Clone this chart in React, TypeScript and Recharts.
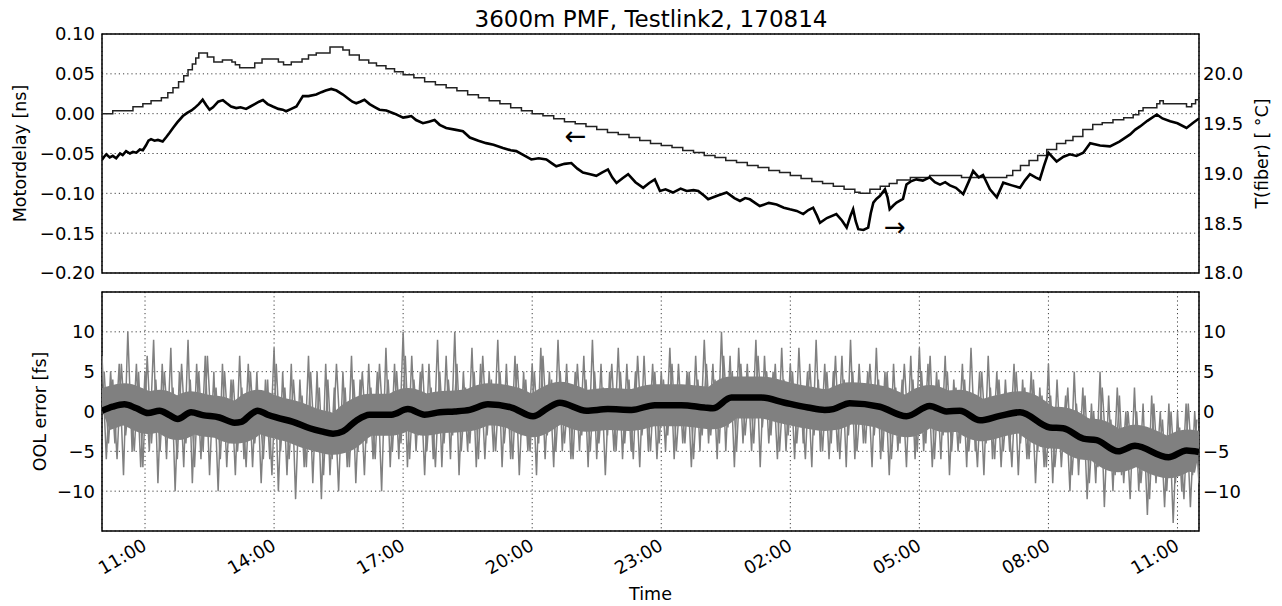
import React from 'react'
import {
  CartesianGrid,
  Line,
  LineChart,
  ReferenceArea,
  ReferenceDot,
  XAxis,
  YAxis,
} from 'recharts'

// time is in hours counted from midnight of 14.08. (so 26 = 02:00 next day)
const timeDomain: [number, number] = [10, 35.5]
const timeTicks = [11, 14, 17, 20, 23, 26, 29, 32, 35]
const delayTicks = [-0.2, -0.15, -0.1, -0.05, 0, 0.05, 0.1]
const tempTicks = [18, 18.5, 19, 19.5, 20]
const oolTicks = [-10, -5, 0, 5, 10]

// [time, motordelay ns]
const motorDelay: [number, number][] = [
  [10.0, -0.058], [10.05, -0.054], [10.1, -0.051], [10.18, -0.055], [10.25, -0.053],
  [10.33, -0.056], [10.42, -0.05], [10.48, -0.052], [10.56, -0.047], [10.65, -0.05],
  [10.72, -0.048], [10.8, -0.049], [10.88, -0.045], [10.95, -0.046], [11.02, -0.04],
  [11.08, -0.034], [11.14, -0.032], [11.22, -0.034], [11.3, -0.033], [11.41, -0.035],
  [11.5, -0.029], [11.57, -0.024], [11.65, -0.018], [11.75, -0.011], [11.88, -0.003],
  [11.98, 0.001], [12.08, 0.004], [12.15, 0.007], [12.25, 0.012], [12.34, 0.0175],
  [12.42, 0.011], [12.5, 0.005], [12.58, 0.008], [12.7, 0.015], [12.81, 0.017],
  [12.9, 0.013], [13.0, 0.009], [13.12, 0.007], [13.22, 0.008], [13.35, 0.006],
  [13.45, 0.009], [13.55, 0.012], [13.65, 0.015], [13.74, 0.017], [13.85, 0.012],
  [13.97, 0.009], [14.1, 0.006], [14.2, 0.005], [14.28, 0.003], [14.4, 0.006],
  [14.52, 0.009], [14.6, 0.016], [14.67, 0.022], [14.8, 0.022], [14.98, 0.024],
  [15.1, 0.027], [15.2, 0.029], [15.33, 0.031], [15.45, 0.029], [15.6, 0.024],
  [15.72, 0.019], [15.82, 0.015], [15.91, 0.013], [16.0, 0.015], [16.1, 0.0175],
  [16.22, 0.012], [16.35, 0.008], [16.45, 0.005], [16.61, 0.004], [16.8, 0.0],
  [17.0, -0.005], [17.1, -0.004], [17.19, -0.003], [17.3, -0.008], [17.46, -0.012],
  [17.6, -0.01], [17.73, -0.008], [17.85, -0.014], [18.0, -0.018], [18.2, -0.02],
  [18.39, -0.022], [18.55, -0.03], [18.75, -0.034], [18.93, -0.037], [19.1, -0.039],
  [19.32, -0.043], [19.5, -0.046], [19.63, -0.047], [19.8, -0.052], [19.98, -0.0575],
  [20.15, -0.056], [20.33, -0.0575], [20.45, -0.062], [20.56, -0.066], [20.75, -0.063],
  [20.91, -0.062], [21.05, -0.069], [21.18, -0.074], [21.35, -0.076], [21.49, -0.078],
  [21.62, -0.074], [21.76, -0.07], [21.86, -0.08], [21.96, -0.087], [22.1, -0.081],
  [22.23, -0.076], [22.4, -0.086], [22.58, -0.093], [22.72, -0.087], [22.85, -0.0825],
  [22.97, -0.097], [23.1, -0.095], [23.27, -0.099], [23.45, -0.094], [23.59, -0.097],
  [23.75, -0.096], [23.86, -0.097], [24.0, -0.103], [24.09, -0.1075], [24.3, -0.103],
  [24.52, -0.099], [24.7, -0.106], [24.83, -0.1096], [24.95, -0.106], [25.06, -0.1075],
  [25.18, -0.112], [25.29, -0.116], [25.5, -0.112], [25.68, -0.114], [25.85, -0.118],
  [25.99, -0.12], [26.15, -0.122], [26.3, -0.126], [26.42, -0.121], [26.53, -0.118],
  [26.62, -0.128], [26.69, -0.137], [26.85, -0.131], [27.07, -0.126], [27.2, -0.134],
  [27.31, -0.143], [27.4, -0.128], [27.46, -0.12], [27.52, -0.135], [27.58, -0.145],
  [27.7, -0.146], [27.81, -0.143], [27.87, -0.125], [27.93, -0.1116], [28.0, -0.107],
  [28.08, -0.1034], [28.2, -0.095], [28.26, -0.105], [28.31, -0.12], [28.4, -0.115],
  [28.47, -0.1116], [28.62, -0.107], [28.7, -0.089], [28.8, -0.085], [28.93, -0.0825],
  [29.08, -0.084], [29.24, -0.08], [29.36, -0.086], [29.48, -0.089], [29.6, -0.086],
  [29.71, -0.09], [29.85, -0.093], [30.02, -0.101], [30.15, -0.085], [30.25, -0.072],
  [30.38, -0.08], [30.48, -0.077], [30.64, -0.095], [30.8, -0.105], [30.95, -0.0866],
  [31.15, -0.09], [31.34, -0.093], [31.45, -0.084], [31.57, -0.076], [31.7, -0.08],
  [31.8, -0.0825], [31.9, -0.065], [32.0, -0.049], [32.1, -0.055], [32.19, -0.06],
  [32.35, -0.054], [32.5, -0.051], [32.65, -0.053], [32.81, -0.049], [32.97, -0.037],
  [33.2, -0.04], [33.43, -0.041], [33.65, -0.035], [33.9, -0.026], [34.02, -0.02],
  [34.13, -0.016], [34.3, -0.009], [34.52, -0.001], [34.65, -0.006], [34.83, -0.0096],
  [35.0, -0.012], [35.21, -0.018], [35.35, -0.012], [35.5, -0.006],
]

// [time, fiber temperature degC], drawn as steps
const fiberTemp: [number, number][] = [
  [10.0, 19.6], [10.25, 19.63], [10.72, 19.67], [10.95, 19.7], [11.14, 19.73],
  [11.38, 19.76], [11.53, 19.81], [11.65, 19.86], [11.78, 19.92], [11.9, 19.98],
  [12.0, 20.04], [12.1, 20.1], [12.18, 20.16], [12.25, 20.21], [12.45, 20.17],
  [12.6, 20.12], [12.8, 20.14], [13.02, 20.12], [13.1, 20.09], [13.2, 20.06],
  [13.55, 20.11], [13.72, 20.15], [14.1, 20.12], [14.22, 20.09], [14.4, 20.12],
  [14.65, 20.15], [14.8, 20.19], [14.98, 20.21], [15.3, 20.27], [15.6, 20.24],
  [15.75, 20.19], [15.98, 20.14], [16.2, 20.11], [16.38, 20.08], [16.6, 20.05],
  [16.8, 20.02], [17.0, 19.99], [17.25, 19.96], [17.5, 19.92], [17.75, 19.89],
  [18.0, 19.86], [18.25, 19.83], [18.5, 19.79], [18.75, 19.76], [19.0, 19.73],
  [19.25, 19.7], [19.5, 19.66], [19.75, 19.63], [20.0, 19.6], [20.25, 19.58],
  [20.5, 19.55], [20.75, 19.52], [21.0, 19.5], [21.25, 19.47], [21.5, 19.44],
  [21.75, 19.41], [22.0, 19.39], [22.25, 19.36], [22.5, 19.33], [22.75, 19.3],
  [23.0, 19.28], [23.25, 19.26], [23.5, 19.23], [23.75, 19.21], [24.0, 19.18],
  [24.25, 19.16], [24.5, 19.13], [24.75, 19.11], [25.0, 19.08], [25.25, 19.06],
  [25.5, 19.03], [25.75, 19.01], [26.0, 18.98], [26.25, 18.95], [26.5, 18.92],
  [26.75, 18.9], [27.0, 18.87], [27.25, 18.84], [27.5, 18.81], [27.62, 18.8],
  [27.85, 18.84], [28.09, 18.87], [28.3, 18.9], [28.48, 18.935], [28.79, 18.96],
  [29.24, 18.98], [29.98, 18.96], [31.03, 18.98], [31.17, 19.03], [31.35, 19.08],
  [31.55, 19.13], [31.75, 19.18], [31.96, 19.24], [32.19, 19.3], [32.4, 19.33],
  [32.57, 19.37], [32.8, 19.44], [33.03, 19.49], [33.25, 19.51], [33.5, 19.54],
  [33.75, 19.56], [33.97, 19.59], [34.1, 19.63], [34.2, 19.66], [34.52, 19.7],
  [34.59, 19.73], [34.67, 19.7], [35.13, 19.7], [35.21, 19.67], [35.33, 19.7],
  [35.42, 19.74], [35.5, 19.79],
]

// [time, smoothed OOL error fs]
const oolMean: [number, number][] = [
  [10.0, 0.1], [10.25, 0.6], [10.52, 0.9], [10.8, 0.4], [11.07, -0.2], [11.34, 0.1],
  [11.55, -0.4], [11.76, -0.95], [12.07, -0.1], [12.34, -0.45], [12.73, -0.75],
  [13.08, -1.4], [13.24, -1.3], [13.45, -0.4], [13.62, 0.1], [13.85, -0.4], [14.05, -0.75],
  [14.44, -1.3], [14.83, -2.1], [15.1, -2.5], [15.37, -2.8], [15.6, -2.5], [15.91, -1.15],
  [16.22, -0.4], [16.73, -0.4], [17.11, 0.3], [17.5, -0.4], [17.85, -0.1], [18.2, 0.0],
  [18.55, 0.2], [18.97, 0.9], [19.52, 0.5], [20.02, -0.6], [20.35, 0.4], [20.64, 1.1],
  [21.26, 0.1], [21.76, 0.3], [22.31, 0.2], [22.85, 0.8], [23.47, 0.8], [24.0, 0.5],
  [24.2, 0.4], [24.63, 1.75], [25.33, 1.75], [25.87, 1.1], [26.41, 0.5], [26.8, 0.2],
  [27.0, 0.3], [27.38, 1.05], [28.08, 0.6], [28.7, -0.6], [29.24, 0.7], [29.63, 0.0],
  [29.94, 0.1], [30.41, -1.1], [30.87, -0.55], [31.34, -0.1], [32.03, -2.0], [32.34, -2.1],
  [32.81, -3.4], [33.12, -3.6], [33.62, -5.0], [34.01, -4.3], [34.79, -5.75], [35.21, -4.9],
  [35.5, -5.1],
]

// raw OOL error extremes every 0.1 h: peaks at 10.0, 10.2, ... and dips at 10.1, 10.3, ...
const oolStart = 10
const oolStep = 0.1
const oolPeaks = [
  7, 5, 6, 10, 6, 5, 9, 6, 8, 5, 9, 6, 7, 5, 6, 4, 7, 6, 5, 4,
  8, 5, 6, 4, 7, 5, 6, 3, 5, 7, 4, 6, 5, 8, 6, 10, 7, 5, 6, 9,
  7, 10, 5, 8, 6, 5, 9, 6, 7, 5, 6, 8, 5, 9, 6, 5, 7, 9, 6, 5,
  8, 6, 5, 7, 6, 5, 8, 6, 5, 7, 9, 6, 10, 7, 8, 6, 9, 7, 5, 8,
  6, 8, 5, 9, 6, 5, 7, 9, 6, 5, 8, 5, 6, 4, 7, 8, 6, 5, 7, 4,
  6, 8, 5, 7, 5, 4, 6, 4, 5, 3, 6, 4, 2, 5, 3, 1, 5, 2, 3, 0,
  3, 1, 2, 0, 1, 0, 1, 0,
]
const oolDips = [
  -6, -4, -8, -5, -7, -5, -9, -6, -10, -7, -9, -6, -8, -10, -7, -8, -6, -7, -9, -6,
  -10, -8, -11, -7, -9, -11, -8, -10, -7, -9, -8, -6, -10, -7, -6, -7, -5, -8, -6, -7,
  -6, -8, -5, -7, -6, -5, -7, -6, -8, -5, -8, -6, -7, -5, -6, -5, -7, -6, -8, -5,
  -6, -5, -7, -5, -6, -5, -6, -4, -7, -5, -4, -6, -5, -7, -4, -5, -7, -4, -6, -5,
  -6, -4, -7, -5, -6, -5, -7, -6, -4, -7, -6, -8, -5, -7, -6, -5, -7, -6, -8, -5,
  -7, -5, -8, -6, -7, -5, -8, -6, -9, -7, -9, -7, -10, -8, -11, -9, -12, -10, -8, -11,
  -10, -13, -9, -12, -14, -10, -12, -9,
]
// second, smaller layer in between: peaks at 10.05, 10.25, ... and dips at 10.15, 10.35, ...
const oolPeaks2 = [
  5, 4, 6, 3, 5, 7, 4, 5, 3, 6, 4, 5, 7, 3, 5,
  4, 3, 5, 2, 4, 6, 3, 4, 2, 5, 3, 4, 6, 3, 4,
  5, 3, 6, 4, 5, 7, 4, 6, 3, 5, 4, 6, 3, 5, 7, 4, 5, 3, 6, 4,
  5, 7, 4, 5, 3, 6, 4, 5, 3, 6, 5, 4, 7, 3, 5, 4, 6, 3, 5, 4,
  6, 4, 7, 5, 6, 4, 7, 5, 6, 4,
  5, 3, 6, 4, 5, 7, 4, 5, 3, 6, 4, 5, 3, 6, 4, 5, 7, 4, 5, 3,
  4, 2, 5, 3, 4, 2, 5, 3, 4, 2,
  2, 0, 3, 1, 2, 0, 3, -1, 2, 0,
  0, -2, 1, -1, 0, -2, 1, -1,
]
const oolDips2 = [
  -4, -6, -3, -5, -7, -4, -5, -3, -6, -4, -7, -5, -3, -6, -4,
  -5, -7, -4, -6, -8, -5, -6, -4, -7, -5, -8, -6, -4, -7, -5,
  -4, -6, -3, -5, -4, -6, -3, -5, -7, -4, -3, -5, -4, -6, -3, -5, -4, -6, -3, -5,
  -4, -3, -5, -4, -6, -3, -5, -4, -3, -5, -4, -6, -3, -5, -4, -3, -5, -4, -6, -3,
  -3, -4, -2, -5, -3, -4, -2, -3, -5, -3,
  -4, -6, -3, -5, -4, -6, -3, -5, -4, -3, -5, -6, -4, -3, -5, -4, -6, -3, -5, -4,
  -5, -7, -4, -6, -5, -7, -4, -6, -5, -7,
  -7, -5, -8, -6, -9, -7, -6, -8, -9, -7,
  -9, -11, -8, -10, -9, -11, -8,
]

// arrows telling which axis each curve belongs to: [time, motordelay, glyph]
const axisArrows: [number, number, string][] = [
  [21.01, -0.0275, '\u2190'],
  [28.43, -0.1425, '\u2192'],
]

const toPoints = (rows: [number, number][]) => rows.map(([t, v]) => ({ t, v }))

function zigzag(peaks: number[], dips: number[], start: number) {
  const out: { t: number; v: number }[] = []
  peaks.forEach((p, i) => {
    out.push({ t: start + 2 * i * oolStep, v: p })
    if (dips[i] !== undefined) out.push({ t: start + (2 * i + 1) * oolStep, v: dips[i] })
  })
  return out
}

const oolRaw = zigzag(oolPeaks, oolDips, oolStart)
const oolRaw2 = zigzag(oolPeaks2, oolDips2, oolStart + oolStep / 2)

const FONT = 'DejaVu Sans, Bitstream Vera Sans, sans-serif'
const tickStyle = { fontSize: 18, fill: '#000', fontFamily: FONT }
const labelStyle = { textAnchor: 'middle', fontSize: 17.5, fill: '#000', fontFamily: FONT }
const gridProps = { stroke: '#000', strokeDasharray: '1.2 3', strokeOpacity: 0.75 }

const minus = (s: string) => s.replace('-', '\u2212')

function TimeTick(props: any) {
  const { x, y, payload } = props
  const h = Math.round(payload.value) % 24
  const label = `${String(h).padStart(2, '0')}:00`
  return (
    <g transform={`translate(${x + 3},${y + 10}) rotate(-30)`}>
      <text textAnchor="end" fontSize={18} fontFamily={FONT} fill="#000">
        {label}
      </text>
    </g>
  )
}

export default function App(): React.ReactElement {
  return (
    <div
      style={{
        position: 'absolute',
        left: 0,
        top: 0,
        width: 1282,
        height: 606,
        background: '#fff',
        fontFamily: FONT,
      }}
    >
      <svg width={1282} height={34} style={{ position: 'absolute', left: 0, top: 0 }}>
        <text x={651} y={26.5} textAnchor="middle" fontSize={23} fontFamily={FONT} fill="#000">
          3600m PMF, Testlink2, 170814
        </text>
      </svg>

      <div style={{ position: 'absolute', left: 0, top: 0 }}>
        <LineChart width={1282} height={290} margin={{ top: 34, right: 0, bottom: 17, left: 0 }}>
          <CartesianGrid yAxisId="delay" {...gridProps} />
          <XAxis
            dataKey="t"
            type="number"
            domain={timeDomain}
            ticks={timeTicks}
            interval={0}
            allowDataOverflow
            height={0}
            tick={false}
            tickLine={false}
            axisLine={false}
          />
          <YAxis
            yAxisId="delay"
            domain={[-0.2, 0.1]}
            ticks={delayTicks}
            interval={0}
            allowDataOverflow
            width={102}
            tickSize={4}
            tickMargin={3}
            tickLine={false}
            axisLine={false}
            tick={tickStyle}
            tickFormatter={(v: number) => minus(v.toFixed(2))}
            label={{
              value: 'Motordelay [ns]',
              angle: -90,
              position: 'insideLeft',
              offset: 20,
              style: labelStyle,
            }}
          />
          <YAxis
            yAxisId="temp"
            orientation="right"
            domain={[18, 20.4]}
            ticks={tempTicks}
            interval={0}
            allowDataOverflow
            width={83}
            tickSize={4}
            tickMargin={0}
            tickLine={false}
            axisLine={false}
            tick={tickStyle}
            tickFormatter={(v: number) => v.toFixed(1)}
            label={{
              value: 'T(fiber) [ \u00b0C]',
              angle: -90,
              position: 'insideRight',
              offset: 20,
              style: labelStyle,
            }}
          />
          <Line
            yAxisId="temp"
            data={toPoints(fiberTemp)}
            dataKey="v"
            type="stepAfter"
            stroke="#222"
            strokeWidth={1.5}
            dot={false}
            isAnimationActive={false}
          />
          <Line
            yAxisId="delay"
            data={toPoints(motorDelay)}
            dataKey="v"
            type="linear"
            stroke="#000"
            strokeWidth={2.6}
            dot={false}
            isAnimationActive={false}
          />
          {axisArrows.map(([t, v, glyph]) => (
            <ReferenceDot
              key={glyph}
              yAxisId="delay"
              x={t}
              y={v}
              r={0}
              fill="none"
              stroke="none"
              label={{ value: glyph, position: 'center', fontSize: 26, fill: '#000', fontFamily: FONT }}
            />
          ))}
          <ReferenceArea
            yAxisId="delay"
            x1={timeDomain[0]}
            x2={timeDomain[1]}
            y1={-0.2}
            y2={0.1}
            fill="none"
            stroke="#000"
            strokeWidth={1.5}
            fillOpacity={0}
          />
        </LineChart>
      </div>

      <div style={{ position: 'absolute', left: 0, top: 280 }}>
        <LineChart width={1282} height={326} margin={{ top: 12, right: 0, bottom: 0, left: 0 }}>
          <CartesianGrid yAxisId="ool" {...gridProps} />
          <XAxis
            dataKey="t"
            type="number"
            domain={timeDomain}
            ticks={timeTicks}
            interval={0}
            allowDataOverflow
            height={75}
            tickLine={false}
            axisLine={false}
            tick={<TimeTick />}
            label={{
              value: 'Time',
              position: 'insideBottom',
              offset: 6,
              style: { fontSize: 17.5, fill: '#000', fontFamily: FONT },
            }}
          />
          <YAxis
            yAxisId="ool"
            domain={[-15, 15]}
            ticks={oolTicks}
            interval={0}
            allowDataOverflow
            width={102}
            tickSize={4}
            tickMargin={3}
            tickLine={false}
            axisLine={false}
            tick={tickStyle}
            tickFormatter={(v: number) => minus(String(v))}
            label={{
              value: 'OOL error [fs]',
              angle: -90,
              position: 'insideLeft',
              offset: 40,
              style: labelStyle,
            }}
          />
          <YAxis
            yAxisId="oolRight"
            orientation="right"
            domain={[-15, 15]}
            ticks={oolTicks}
            interval={0}
            allowDataOverflow
            width={83}
            tickSize={4}
            tickMargin={0}
            tickLine={false}
            axisLine={false}
            tick={tickStyle}
            tickFormatter={(v: number) => minus(String(v))}
          />
          <Line
            yAxisId="ool"
            data={toPoints(oolMean)}
            dataKey="v"
            type="monotone"
            stroke="#808080"
            strokeWidth={42}
            strokeLinecap="butt"
            dot={false}
            isAnimationActive={false}
          />
          <Line
            yAxisId="ool"
            data={oolRaw2}
            dataKey="v"
            type="linear"
            stroke="#808080"
            strokeWidth={1.5}
            dot={false}
            isAnimationActive={false}
          />
          <Line
            yAxisId="ool"
            data={oolRaw}
            dataKey="v"
            type="linear"
            stroke="#808080"
            strokeWidth={1.5}
            dot={false}
            isAnimationActive={false}
          />
          <Line
            yAxisId="ool"
            data={toPoints(oolMean)}
            dataKey="v"
            type="monotone"
            stroke="#000"
            strokeWidth={6.5}
            dot={false}
            isAnimationActive={false}
          />
          <ReferenceArea
            yAxisId="ool"
            x1={timeDomain[0]}
            x2={timeDomain[1]}
            y1={-15}
            y2={15}
            fill="none"
            stroke="#000"
            strokeWidth={1.5}
            fillOpacity={0}
          />
        </LineChart>
      </div>
    </div>
  )
}
